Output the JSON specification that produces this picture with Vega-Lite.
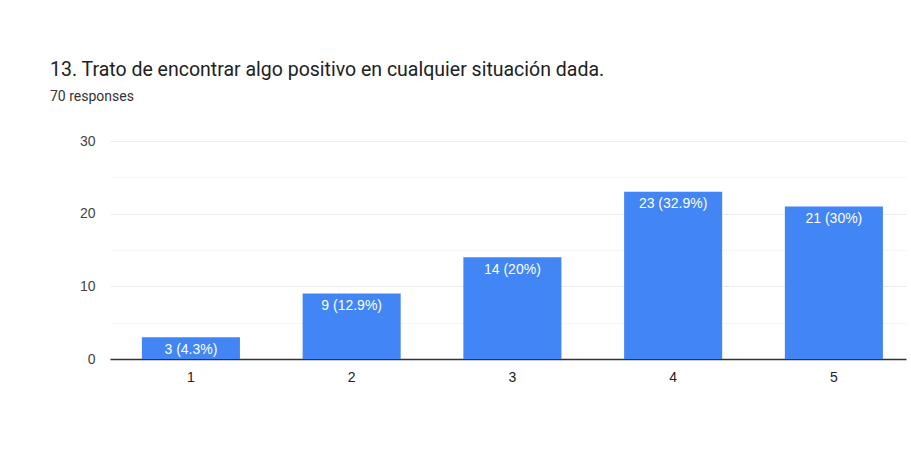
{
  "$schema": "https://vega.github.io/schema/vega-lite/v6.json",
  "width": 796,
  "height": 218,
  "autosize": {"type": "none"},
  "padding": {"left": 110, "top": 141, "right": 5, "bottom": 97},
  "background": "white",
  "title": {
    "text": "13. Trato de encontrar algo positivo en cualquier situación dada.",
    "subtitle": "70 responses",
    "anchor": "start",
    "frame": "group",
    "dx": -60,
    "offset": 29,
    "font": "Roboto",
    "fontSize": 19.5,
    "fontWeight": "normal",
    "color": "#202124",
    "subtitleFont": "Roboto",
    "subtitleFontSize": 14,
    "subtitleColor": "#333333",
    "subtitlePadding": 10
  },
  "data": {
    "values": [
      {"option": "1", "count": 3, "label": "3 (4.3%)"},
      {"option": "2", "count": 9, "label": "9 (12.9%)"},
      {"option": "3", "count": 14, "label": "14 (20%)"},
      {"option": "4", "count": 23, "label": "23 (32.9%)"},
      {"option": "5", "count": 21, "label": "21 (30%)"}
    ]
  },
  "encoding": {
    "x": {
      "field": "option",
      "type": "ordinal",
      "scale": {"paddingInner": 0.39, "paddingOuter": 0.171, "align": 0.58},
      "axis": {
        "title": null,
        "labelAngle": 0,
        "labelFont": "Liberation Sans",
        "labelFontSize": 14,
        "labelColor": "#222222",
        "labelPadding": 11,
        "ticks": false,
        "domainColor": "#333333",
        "domainWidth": 1.5
      }
    },
    "y": {
      "field": "count",
      "type": "quantitative",
      "scale": {"domain": [0, 30], "nice": false},
      "axis": {
        "title": null,
        "values": [0, 5, 10, 15, 20, 25, 30],
        "labelExpr": "datum.value % 10 === 0 ? datum.label : ''",
        "labelFont": "Liberation Sans",
        "labelFontSize": 14,
        "labelColor": "#444444",
        "labelPadding": 15,
        "ticks": false,
        "domain": false,
        "gridColor": {
          "condition": {"test": "datum.value % 10 === 0", "value": "#ebebeb"},
          "value": "#f6f6f6"
        }
      }
    }
  },
  "layer": [
    {"mark": {"type": "bar", "color": "#4285F4"}},
    {
      "mark": {
        "type": "text",
        "color": "white",
        "font": "Liberation Sans",
        "fontSize": 14,
        "baseline": "middle",
        "dy": 12.5
      },
      "encoding": {"text": {"field": "label"}}
    }
  ],
  "config": {"view": {"stroke": null}}
}
